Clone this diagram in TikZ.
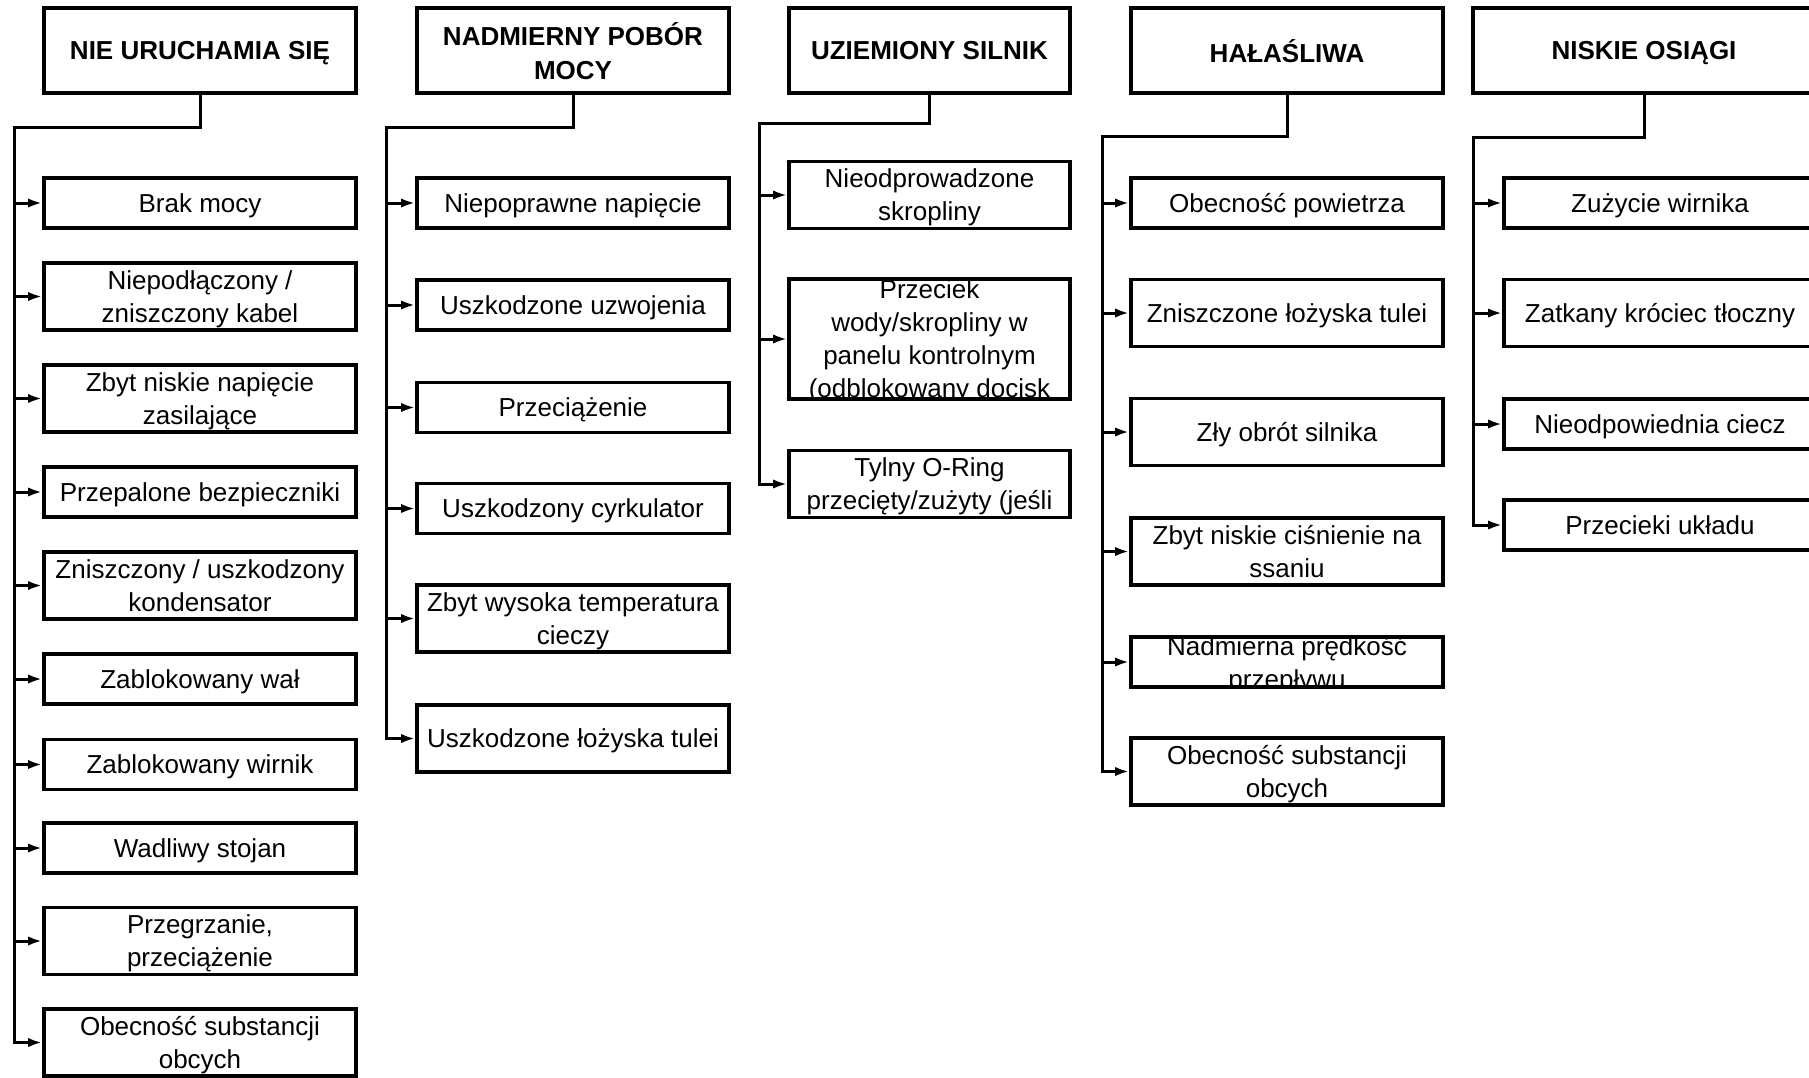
\documentclass[tikz,border=0pt]{standalone}
\usepackage{fontspec}
\setmainfont{Liberation Sans}
\usetikzlibrary{arrows.meta}

\begin{document}
\begin{tikzpicture}[
      x = 0.5pt, y = -0.5pt,
      cause/.style={
        draw,
        line width = 1.8pt,
        inner sep = 0pt,
        minimum width = 156pt,
        minimum height = 25pt,
        text depth = 0pt,
        align = center,
        font = \fontsize{13}{16.5}\selectfont,
      },
      two/.style={cause, minimum height = 33.5pt},
      head/.style={cause, minimum height = 42.5pt,
        font = \fontsize{13}{17}\selectfont\bfseries},
      cutbox/.style={cause, path picture={
          \node[draw = none, text depth = 0pt, align = center,
            font = \fontsize{13}{16.5}\selectfont]
            at (path picture bounding box.center) {#1};}},
      wire/.style={line width = 1.5pt},
      arr/.style={wire, -{Latex[length = 7pt, width = 4.6pt]}},
    ]
    \clip (0,0) rectangle (1809,1077);
    \fill[white] (0,0) rectangle (1809,1077);

    % NIE URUCHAMIA SIĘ
    \node[head] (nie) at (200,50.5) {NIE URUCHAMIA SIĘ};
    \node[cause] (nie1) at (200,203) {Brak mocy};
    \node[two] (nie2) at (200,296.5) {Niepodłączony /\\zniszczony kabel};
    \node[two] (nie3) at (200,398.5) {Zbyt niskie napięcie\\zasilające};
    \node[cause] (nie4) at (200,492) {Przepalone bezpieczniki};
    \node[two] (nie5) at (200,585.5) {Zniszczony / uszkodzony\\kondensator};
    \node[cause] (nie6) at (200,679) {Zablokowany wał};
    \node[cause] (nie7) at (200,764.5) {Zablokowany wirnik};
    \node[cause] (nie8) at (200,848) {Wadliwy stojan};
    \node[two] (nie9) at (200,941) {Przegrzanie,\\przeciążenie};
    \node[two] (nie10) at (200,1042.5) {Obecność substancji\\obcych};

    % NADMIERNY POBÓR MOCY
    \node[head] (pob) at (573,50.5) {NADMIERNY POBÓR\\MOCY};
    \node[cause] (pob1) at (573,203) {Niepoprawne napięcie};
    \node[cause] (pob2) at (573,305) {Uszkodzone uzwojenia};
    \node[cause] (pob3) at (573,407.5) {Przeciążenie};
    \node[cause] (pob4) at (573,508.5) {Uszkodzony cyrkulator};
    \node[two] (pob5) at (573,618.5) {Zbyt wysoka temperatura\\cieczy};
    \node[two] (pob6) at (573,738.5) {Uszkodzone łożyska tulei};

    % UZIEMIONY SILNIK
    \node[head, minimum width = 140.5pt] (uzi) at (929.5,50.5) {UZIEMIONY SILNIK};
    \node[two, minimum width = 140.5pt] (uzi1) at (929.5,195) {Nieodprowadzone\\skropliny};
    \node[cutbox={Przeciek\\wody/skropliny w\\panelu kontrolnym\\(odblokowany docisk},
      minimum width = 140.5pt, minimum height = 60pt] (uzi2) at (929.5,339) {};
    \node[two, minimum width = 140.5pt] (uzi3) at (929.5,484)
      {Tylny O-Ring\\przecięty/zużyty (jeśli};

    % HAŁAŚLIWA
    \node[head] (hal) at (1287,50.5) {HAŁAŚLIWA};
    \node[cause] (hal1) at (1287,203) {Obecność powietrza};
    \node[two] (hal2) at (1287,313) {Zniszczone łożyska tulei};
    \node[two] (hal3) at (1287,432) {Zły obrót silnika};
    \node[two] (hal4) at (1287,551.5) {Zbyt niskie ciśnienie na\\ssaniu};
    \node[cutbox={Nadmierna prędkość\\przepływu}] (hal5) at (1287,662) {};
    \node[two] (hal6) at (1287,771.5) {Obecność substancji\\obcych};

    % NISKIE OSIĄGI
    \node[head, minimum width = 171pt] (osi) at (1644,50.5) {NISKIE OSIĄGI};
    \node[cause] (osi1) at (1660,203) {Zużycie wirnika};
    \node[two] (osi2) at (1660,313) {Zatkany króciec tłoczny};
    \node[cause] (osi3) at (1660,424) {Nieodpowiednia ciecz};
    \node[cause] (osi4) at (1660,525) {Przecieki układu};

    \coordinate (jnie) at (14,127);
    \coordinate (jpob) at (386,127);
    \coordinate (juzi) at (759,123);
    \coordinate (jhal) at (1102,136);
    \coordinate (josi) at (1473,137);

    \draw[arr] (nie.south) |- (jnie) |- (nie10.west);
    \foreach \n in {1,...,9}
      \draw[arr] (jnie |- nie\n.west) -- (nie\n.west);

    \draw[arr] (pob.south) |- (jpob) |- (pob6.west);
    \foreach \n in {1,...,5}
      \draw[arr] (jpob |- pob\n.west) -- (pob\n.west);

    \draw[arr] (uzi.south) |- (juzi) |- (uzi3.west);
    \foreach \n in {1,2}
      \draw[arr] (juzi |- uzi\n.west) -- (uzi\n.west);

    \draw[arr] (hal.south) |- (jhal) |- (hal6.west);
    \foreach \n in {1,...,5}
      \draw[arr] (jhal |- hal\n.west) -- (hal\n.west);

    \draw[arr] (osi.south) |- (josi) |- (osi4.west);
    \foreach \n in {1,2,3}
      \draw[arr] (josi |- osi\n.west) -- (osi\n.west);
  \end{tikzpicture}
\end{document}
